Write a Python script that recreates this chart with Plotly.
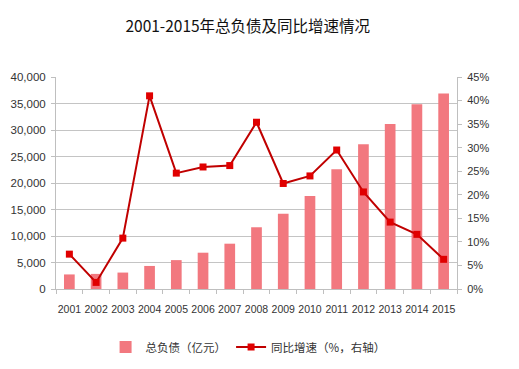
import plotly.graph_objects as go

years = ["2001","2002","2003","2004","2005","2006","2007","2008","2009","2010","2011","2012","2013","2014","2015"]
total_debt = [2750, 2850, 3100, 4350, 5450, 6850, 8550, 11650, 14200, 17550, 22600, 27300, 31150, 34850, 36900]
growth = [7.4, 1.4, 10.8, 41.0, 24.6, 25.9, 26.2, 35.4, 22.4, 24.0, 29.5, 20.6, 14.2, 11.6, 6.3]

font_cjk = "Noto Sans CJK SC"

fig = go.Figure()
fig.add_trace(go.Bar(
    x=years, y=total_debt, name="总负债（亿元）",
    marker=dict(color="#F2787F", line=dict(width=0)),
    yaxis="y",
))
fig.add_trace(go.Scatter(
    x=years, y=growth, name="同比增速（%，右轴）",
    mode="lines+markers",
    line=dict(color="#C00000", width=2),
    marker=dict(symbol="square", size=7, color="#E00000"),
    yaxis="y2",
))

fig.update_layout(
    width=519, height=369,
    margin=dict(l=48, r=70, t=69, b=88, autoexpand=False),
    paper_bgcolor="white", plot_bgcolor="white",
    title=dict(text="2001-2015年总负债及同比增速情况", x=0.462, xanchor="center",
               y=0.9485, yanchor="middle",
               font=dict(family=font_cjk, size=15.5, color="#111111")),
    bargap=0.6,
    showlegend=True,
    legend=dict(orientation="h", x=0.479, xanchor="center", y=-0.274, yanchor="middle",
                font=dict(family=font_cjk, size=11.5, color="#333333"),
                itemwidth=30, tracegroupgap=0),
    font=dict(family="Liberation Sans", size=11, color="#333333"),
    xaxis=dict(type="category", range=[-0.5, len(years) - 0.5], showgrid=False,
               showline=True, linecolor="#BFBFBF",
               ticks="outside", tickson="boundaries", ticklen=4, tickcolor="#BFBFBF",
               tickangle=0, automargin=False, ticklabelstandoff=10,
               tickfont=dict(size=10.5, color="#333333")),
    yaxis=dict(range=[0, 40000], dtick=5000, tickformat=",", showgrid=True,
               gridcolor="#C4C4C4", showline=True, linecolor="#BFBFBF",
               ticks="outside", ticklen=4, tickcolor="#BFBFBF", zeroline=False,
               automargin=False, ticklabelstandoff=3,
               tickfont=dict(size=11.5, color="#333333")),
    yaxis2=dict(range=[0, 45], dtick=5, ticksuffix="%", overlaying="y", side="right",
                showgrid=False, showline=True, linecolor="#BFBFBF",
                ticks="outside", ticklen=4, tickcolor="#BFBFBF", zeroline=False,
                automargin=False, ticklabelstandoff=3,
                tickfont=dict(size=11, color="#333333")),
)

fig.write_html("out.html")
